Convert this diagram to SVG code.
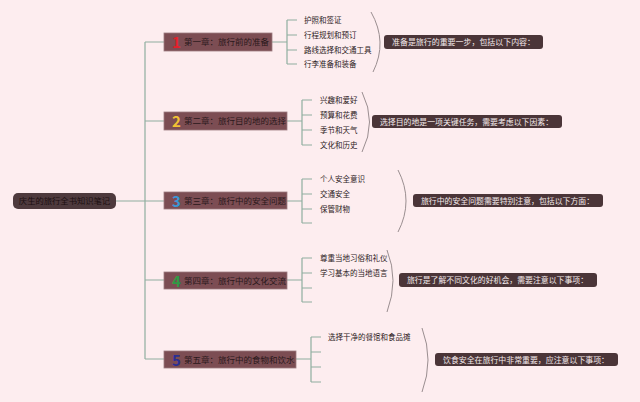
<svg xmlns="http://www.w3.org/2000/svg" width="640" height="402" viewBox="0 0 640 402">
<style>
text{font-family:"Noto Sans CJK SC","Noto Sans",sans-serif;}
.ln{fill:none;stroke:#8fae9f;stroke-width:1.2;}
.par{fill:none;stroke:#9a8e90;stroke-width:1;}
.ch{fill:#7c4d53;stroke:#9c7c80;stroke-width:0.8;}
.cht{font-size:8.5px;fill:#2a181b;}
.num{font-size:15px;font-weight:bold;}
.leaf{font-size:7.5px;fill:#2d2224;}
.sum{fill:#4b3538;}
.sumt{font-size:8px;fill:#f3e9ea;}
</style>
<rect width="640" height="402" fill="#fdedef"/>
<g id="connectors">
<path class="ln" d="M116,201 H164 M145,42 V359 M145,42 H164 M145,121 H164 M145,280 H164 M145,359 H164"/>
<path class="ln" d="M272,42 H287 M287,20 V64 M287,20 H297 M287,35 H297 M287,50 H297 M287,64 H297"/>
<path class="ln" d="M287,121 H302 M302,100 V145 M302,100 H312 M302,115 H312 M302,130 H312 M302,145 H312"/>
<path class="ln" d="M287,201 H302 M302,179 V223 M302,179 H312 M302,194 H312 M302,209 H312 M302,223 H312"/>
<path class="ln" d="M287,280 H302 M302,258 V302 M302,258 H312 M302,273 H312 M302,288 H312 M302,302 H312"/>
<path class="ln" d="M296,359 H311 M311,337 V382 M311,337 H321 M311,352 H321 M311,367 H321 M311,382 H321"/>
<path class="par" d="M371,12 Q388,42 373,72"/>
<path class="par" d="M362,92 Q377,122 362,152"/>
<path class="par" d="M398,170 Q414,201 398,232"/>
<path class="par" d="M387,250 Q399,280 387,312"/>
<path class="par" d="M422,328 Q434,360 422,392"/>
</g>
<g id="root">
<rect x="13" y="193" width="103" height="16" rx="5" fill="#4e3a3d"/>
<text x="64.5" y="204" text-anchor="middle" font-size="8.3" fill="#1c0f11">庆生的旅行全书知识笔记</text>
</g>
<g id="ch1">
<rect class="ch" x="164" y="33" width="108" height="18"/>
<text class="num" x="172" y="48" fill="#e3202a">1</text>
<text class="cht" x="184" y="45">第一章：旅行前的准备</text>
</g>
<g id="ch2">
<rect class="ch" x="164" y="112" width="123" height="18"/>
<text class="num" x="172" y="127" fill="#f2c234">2</text>
<text class="cht" x="184" y="124">第二章：旅行目的地的选择</text>
</g>
<g id="ch3">
<rect class="ch" x="164" y="192" width="123" height="17"/>
<text class="num" x="172" y="206.5" fill="#3a98d8">3</text>
<text class="cht" x="184" y="204">第三章：旅行中的安全问题</text>
</g>
<g id="ch4">
<rect class="ch" x="164" y="272" width="123" height="17"/>
<text class="num" x="172" y="286.5" fill="#2f9a45">4</text>
<text class="cht" x="184" y="284">第四章：旅行中的文化交流</text>
</g>
<g id="ch5">
<rect class="ch" x="164" y="351" width="132" height="17"/>
<text class="num" x="172" y="365.5" fill="#2a2f94">5</text>
<text class="cht" x="184" y="363">第五章：旅行中的食物和饮水</text>
</g>
<g id="leaves1">
<text class="leaf" x="304" y="23">护照和签证</text>
<text class="leaf" x="304" y="38">行程规划和预订</text>
<text class="leaf" x="304" y="53">路线选择和交通工具</text>
<text class="leaf" x="304" y="67">行李准备和装备</text>
</g>
<g id="leaves2">
<text class="leaf" x="320" y="103">兴趣和爱好</text>
<text class="leaf" x="320" y="118">预算和花费</text>
<text class="leaf" x="320" y="133">季节和天气</text>
<text class="leaf" x="320" y="148">文化和历史</text>
</g>
<g id="leaves3">
<text class="leaf" x="320" y="182">个人安全意识</text>
<text class="leaf" x="320" y="197">交通安全</text>
<text class="leaf" x="320" y="212">保管财物</text>
</g>
<g id="leaves4">
<text class="leaf" x="320" y="261">尊重当地习俗和礼仪</text>
<text class="leaf" x="320" y="276">学习基本的当地语言</text>
</g>
<g id="leaves5">
<text class="leaf" x="328" y="340">选择干净的餐馆和食品摊</text>
</g>
<g id="sum1">
<rect class="sum" x="384" y="35" width="159" height="14" rx="3"/>
<text class="sumt" x="392" y="45" textLength="143" lengthAdjust="spacingAndGlyphs">准备是旅行的重要一步，包括以下内容：</text>
</g>
<g id="sum2">
<rect class="sum" x="372" y="115" width="190" height="13" rx="3"/>
<text class="sumt" x="380" y="124.5" textLength="173" lengthAdjust="spacingAndGlyphs">选择目的地是一项关键任务，需要考虑以下因素：</text>
</g>
<g id="sum3">
<rect class="sum" x="413" y="194" width="190" height="13" rx="3"/>
<text class="sumt" x="421" y="203.5" textLength="173" lengthAdjust="spacingAndGlyphs">旅行中的安全问题需要特别注意，包括以下方面：</text>
</g>
<g id="sum4">
<rect class="sum" x="399" y="273" width="198" height="14" rx="3"/>
<text class="sumt" x="407" y="283" textLength="181" lengthAdjust="spacingAndGlyphs">旅行是了解不同文化的好机会，需要注意以下事项：</text>
</g>
<g id="sum5">
<rect class="sum" x="435" y="353" width="183" height="13" rx="3"/>
<text class="sumt" x="443" y="362.5" textLength="166" lengthAdjust="spacingAndGlyphs">饮食安全在旅行中非常重要，应注意以下事项：</text>
</g>
</svg>
